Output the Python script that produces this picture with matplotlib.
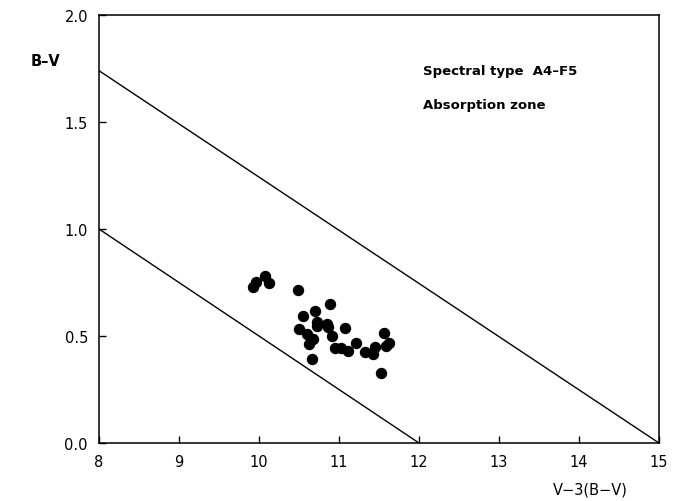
import matplotlib
matplotlib.use("Agg")
import matplotlib.pyplot as plt

# data
star_x = [9.92, 9.96, 10.07, 10.13, 10.49, 10.89, 10.70, 10.55, 10.72, 10.72,
          10.85, 10.86, 10.50, 11.08, 10.60, 10.67, 10.91, 10.63, 11.56, 11.63,
          11.59, 11.21, 10.95, 11.03, 11.11, 11.32, 11.42, 11.45, 10.66, 11.53]
star_y = [0.728, 0.751, 0.782, 0.748, 0.714, 0.650, 0.617, 0.593, 0.564, 0.545,
          0.556, 0.542, 0.534, 0.536, 0.508, 0.486, 0.499, 0.461, 0.513, 0.467,
          0.452, 0.469, 0.445, 0.444, 0.430, 0.425, 0.417, 0.449, 0.391, 0.329]

# limits of the absorption zone
lower_x = [8, 12]
lower_y = [1.0, 0.0]
upper_x = [8, 15]
upper_y = [1.74, 0.0]

x_ticks = [8, 9, 10, 11, 12, 13, 14, 15]
y_ticks = [0.0, 0.5, 1.0, 1.5, 2.0]

fig = plt.figure(figsize=(6.8, 5.02), dpi=100)
ax = fig.add_axes([0.1456, 0.1155, 0.8235, 0.8525], xlim=(8, 15), ylim=(0, 2.0))

ax.plot(lower_x, lower_y, color='black', lw=1.0)
ax.plot(upper_x, upper_y, color='black', lw=1.0)
ax.plot(star_x, star_y, 'o', color='black', ms=7.2)

ax.set_xticks(x_ticks)
ax.set_yticks(y_ticks)
ax.set_yticklabels(['%.1f' % v for v in y_ticks])
ax.tick_params(direction='in', length=5, labelsize=10.5, width=1.0)
ax.tick_params(axis='x', pad=8)
ax.tick_params(axis='y', pad=8)
for s in ax.spines.values():
    s.set_linewidth(1.1)

fig.text(45 / 680, 1 - 61 / 502, 'B\u2013V', fontsize=10.5, fontweight='bold',
         ha='center', va='center')
fig.text(590 / 680, 1 - 490 / 502, 'V\u22123(B\u2212V)', fontsize=10.5,
         ha='center', va='center')
ax.text(0.578, 0.87, 'Spectral type  A4\u2013F5', transform=ax.transAxes,
        fontsize=9.5, fontweight='semibold', ha='left', va='center')
ax.text(0.578, 0.79, 'Absorption zone', transform=ax.transAxes,
        fontsize=9.5, fontweight='semibold', ha='left', va='center')

fig.savefig('out.png', dpi=100)
